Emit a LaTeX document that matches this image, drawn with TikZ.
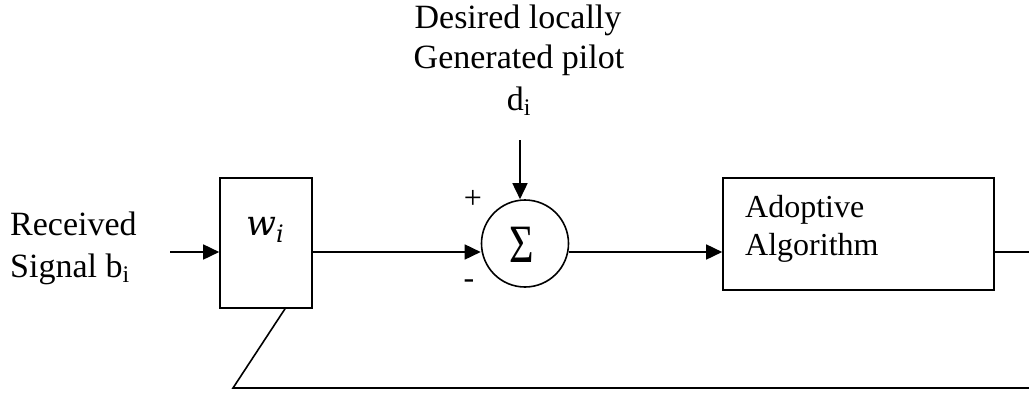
\RequirePackage{fix-cm}
\documentclass[tikz,border=0pt]{standalone}
\usepackage{fontspec}
\usepackage{graphicx}
\setmainfont{Liberation Serif}
\newfontfamily\weightfont{DejaVu Serif}
\usetikzlibrary{arrows.meta,calc}

\tikzset{
  wire/.style={line width=1.6pt},
  arr/.style={wire,-{Triangle[length=16pt,width=15pt]}},
  blockbox/.style={draw,line width=1.6pt,rectangle,inner sep=0pt},
  txt/.style={inner sep=0pt,font=\fontsize{34}{41}\selectfont},
  algtxt/.style={inner sep=0pt,font=\fontsize{32}{38}\selectfont},
  signtxt/.style={inner sep=0pt,font=\fontsize{32}{38}\selectfont}
}

\begin{document}
\begin{tikzpicture}[x=1pt,y=-1pt]
  \useasboundingbox (0,0) rectangle (1029,394);

  % input label
  \node[txt,anchor=base west] (recv1) at (10,235) {Received};
  \node[txt,anchor=base west] (recv2) at (10,277) {Signal b\textsubscript{i}};

  % weight block
  \node[blockbox,minimum width=92pt,minimum height=130pt] (wbox) at (266,243) {};
  \node[inner sep=0pt,anchor=base,font=\weightfont\itshape\fontsize{35}{40}\selectfont] (wlab) at (265,235)
    {w\raisebox{-7pt}{\fontsize{24}{28}\selectfont i}};

  % summing junction
  \node[draw,circle,line width=1.6pt,minimum size=87pt,inner sep=0pt] (sum) at (525,243.5) {};
  \node[inner sep=0pt,font=\fontsize{54}{60}\selectfont] (sig) at (522,245) {\scalebox{0.78}[1]{Σ}};
  \node[signtxt] (plus) at (473,199) {+};
  \node[signtxt] (minus) at (469,284) {-};

  % reference signal label
  \node[txt,anchor=base] (des1) at (518,28) {Desired locally};
  \node[txt,anchor=base] (des2) at (519,68) {Generated pilot};
  \node[txt,anchor=base] (des3) at (519,110) {d\textsubscript{i}};

  % adaptation block
  \node[blockbox,minimum width=271pt,minimum height=112pt] (alg) at (858.5,234) {};
  \node[algtxt,anchor=base west] (alg1) at (745,217) {Adoptive};
  \node[algtxt,anchor=base west] (alg2) at (745,255) {Algorithm};

  % connectors
  \coordinate (in) at (170,252);
  \coordinate (dtop) at (520,140);
  \coordinate (outR) at (1029,252);
  \coordinate (fbR) at (1029,388);
  \coordinate (fbL) at (233,388);

  \draw[arr] (in) -- (in -| wbox.west);
  \draw[arr] (in -| wbox.east) -- (in -| sum.west);
  \draw[arr] (dtop) -- (dtop |- sum.north);
  \draw[arr] (in -| sum.east) -- (in -| alg.west);
  \draw[wire] (in -| alg.east) -- (outR);
  \draw[wire] (fbR) -- (fbL) -- ([xshift=19pt]wbox.south);
\end{tikzpicture}
\end{document}
